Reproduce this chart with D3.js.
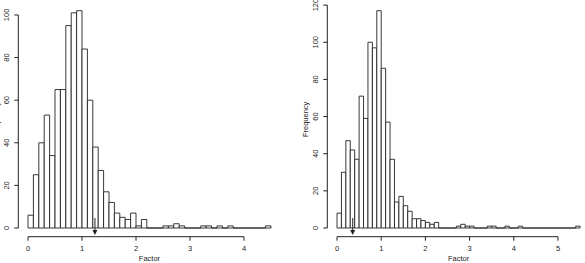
<!DOCTYPE html>
<html>
<head>
<meta charset="utf-8">
<script src="https://cdn.jsdelivr.net/npm/d3@7"></script>
<style>
  body { margin: 0; background: #fff; }
  text { font-family: "Liberation Sans", Arial, sans-serif; font-size: 7.5px; fill: #222; }
</style>
</head>
<body>
<svg id="chart" width="585" height="263"></svg>
<script>
// bin width 0.1, counts start at 0
var binWidth = 0.1;

var leftCounts = [6,25,40,53,34,65,65,95,101,102,84,60,38,27,17,12,7,5,4,7,1,4,0,0,0,1,1,2,1,0,0,0,1,1,0,1,0,1,0,0,0,0,0,0,1];
var rightCounts = [8,30,47,42,37,71,59,100,97,117,86,57,37,14,17,12,9,5,5,4,3,2,3,0,0,0,0,1,2,1,1,0,0,0,1,1,0,0,1,0,0,1,0,0,0,0,0,0,0,0,0,0,0,0,1];

var leftXTicks = [0,1,2,3,4];
var rightXTicks = [0,1,2,3,4,5];
var leftYTicks = [0,20,40,60,80,100];
var rightYTicks = [0,20,40,60,80,100,120];

var leftMarker = 1.24;
var rightMarker = 0.355;

var svg = d3.select("#chart");

function drawHist(counts, xTicks, yTicks, marker, region){
  var g = svg.append("g");
  var nBins = counts.length;
  var xMax = nBins * binWidth;
  var yMax = d3.max(counts);

  // R style 4% padding
  var x = d3.scaleLinear()
    .domain([-0.04 * xMax, xMax * 1.04])
    .range([region.left, region.right]);
  var y = d3.scaleLinear()
    .domain([-0.04 * yMax, yMax * 1.04])
    .range([region.bottom, region.top]);

  var bins = counts.map(function(c,i){ return {x0: i * binWidth, x1: (i+1) * binWidth, n: c}; });

  // paths so the empty bins still draw as a flat line
  g.selectAll("path.bar")
    .data(bins)
    .enter().append("path")
    .attr("class","bar")
    .attr("d",function(d){
      return "M" + x(d.x0) + "," + y(0) + "V" + y(d.n) + "H" + x(d.x1) + "V" + y(0) + "Z";
    })
    .style("fill","#fff")
    .style("stroke","#222")
    .style("stroke-width",0.9);

  // x axis
  var xa = g.append("g").attr("transform","translate(0," + region.bottom + ")");
  xa.append("line")
    .attr("x1",x(xTicks[0])).attr("x2",x(xTicks[xTicks.length-1]))
    .attr("y1",0).attr("y2",0)
    .style("stroke","#222");
  xa.selectAll("line.tick")
    .data(xTicks)
    .enter().append("line")
    .attr("class","tick")
    .attr("x1",function(d){ return x(d) }).attr("x2",function(d){ return x(d) })
    .attr("y1",0).attr("y2",4)
    .style("stroke","#222");
  xa.selectAll("text")
    .data(xTicks)
    .enter().append("text")
    .attr("x",function(d){ return x(d) })
    .attr("y",12)
    .attr("dy","0.35em")
    .style("text-anchor","middle")
    .text(function(d){ return d });

  // y axis
  var ya = g.append("g").attr("transform","translate(" + region.left + ",0)");
  ya.append("line")
    .attr("x1",0).attr("x2",0)
    .attr("y1",y(yTicks[0])).attr("y2",y(yTicks[yTicks.length-1]))
    .style("stroke","#222");
  ya.selectAll("line.tick")
    .data(yTicks)
    .enter().append("line")
    .attr("class","tick")
    .attr("x1",-4).attr("x2",0)
    .attr("y1",function(d){ return y(d) }).attr("y2",function(d){ return y(d) })
    .style("stroke","#222");
  ya.selectAll("text")
    .data(yTicks)
    .enter().append("text")
    .attr("transform",function(d){ return "translate(-11.5," + y(d) + ") rotate(-90)" })
    .attr("dy","0.35em")
    .style("text-anchor","middle")
    .text(function(d){ return d });

  // axis titles
  g.append("text")
    .attr("x",(region.left + region.right) / 2)
    .attr("y",258)
    .attr("dy","0.35em")
    .style("text-anchor","middle")
    .text("Factor");
  g.append("text")
    .attr("transform","translate(" + (region.left - 21.5) + "," + ((region.top + region.bottom) / 2) + ") rotate(-90)")
    .attr("dy","0.35em")
    .style("text-anchor","middle")
    .text("Frequency");

  // marker arrow
  var mx = x(marker);
  g.append("line")
    .attr("x1",mx).attr("x2",mx)
    .attr("y1",218).attr("y2",231)
    .style("stroke","#222");
  g.append("path")
    .attr("d","M" + (mx-2.5) + ",230L" + (mx+2.5) + ",230L" + mx + ",235Z")
    .style("fill","#222");
}

drawHist(leftCounts, leftXTicks, leftYTicks, leftMarker, {left: 18.3, right: 280.7, top: 2, bottom: 236.7});
drawHist(rightCounts, rightXTicks, rightYTicks, rightMarker, {left: 327.3, right: 589.8, top: 2, bottom: 236.7});
</script>
</body>
</html>
